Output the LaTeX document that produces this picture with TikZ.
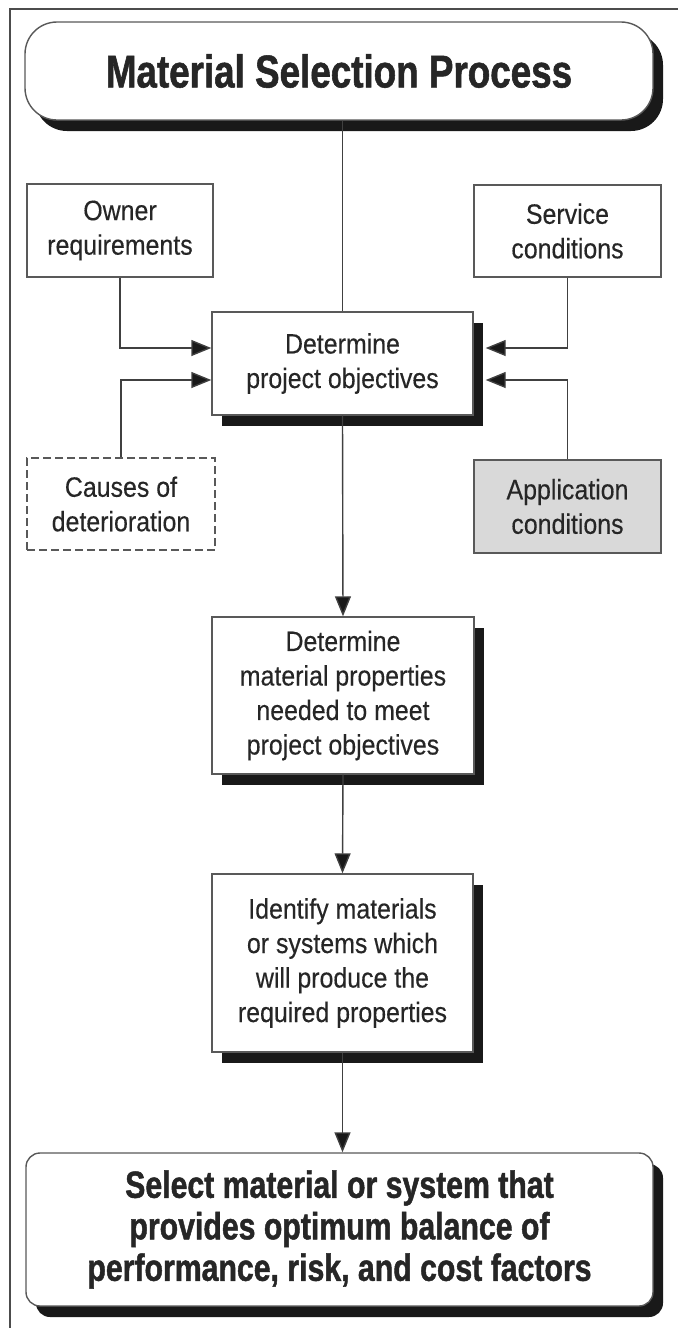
\documentclass[tikz,border=0pt]{standalone}
\usepackage{fontspec}
\setmainfont{Liberation Sans}[FakeStretch=0.89, FakeBold=0.3]
\newfontfamily\headfont{Liberation Sans}[FakeStretch=0.8, BoldFeatures={FakeBold=1.2}]
\usepackage{tikz}
\usetikzlibrary{arrows.meta,positioning,shadows}

\begin{document}
\begin{tikzpicture}[x=0.5pt,y=-0.5pt,
    box/.style={draw=black!65, line width=0.7pt, fill=white, text=black!85,
        align=center, inner sep=0pt, font=\fontsize{14}{17.25}\selectfont},
    shadowbox/.style={box, drop shadow={shadow xshift=5pt, shadow yshift=-5.5pt,
        fill=black!90, opacity=1}},
    headbox/.style={shadowbox, font=\headfont\bfseries\fontsize{18.9}{20.75}\selectfont},
    link/.style={draw=black!75, line width=0.7pt},
    arr/.style={link, -{Triangle[length=10pt,width=8pt,fill=black!90]}}]
    \useasboundingbox (0,0) rectangle (678,1328);

    % Frame
    \draw[black!70, line width=0.6pt] (10,1328) -- (10,9) -- (678,9);

    % Title and inputs
    \node[headbox, rounded corners=16pt, minimum width=314pt, minimum height=49pt,
        font=\headfont\bfseries\fontsize{23}{26}\selectfont] (title) at (339,71)
        {Material Selection Process};
    \node[box, minimum width=93pt, minimum height=46.5pt] (owner) at (120,230.5)
        {Owner\\requirements};
    \node[box, minimum width=93.5pt, minimum height=46pt] (service) at (567.5,231)
        {Service\\conditions};
    \node[box, dash pattern=on 4pt off 2pt, minimum width=94pt, minimum height=46pt]
        (causes) at (121,504) {Causes of\\deterioration};
    \node[box, fill=black!15, minimum width=93.5pt, minimum height=46.5pt]
        (appl) at (567.5,506.5) {Application\\conditions};

    % Main steps
    \node[shadowbox, minimum width=130.5pt, minimum height=51.5pt] (obj) at (342.5,363.5)
        {Determine\\project objectives};
    \node[shadowbox, minimum width=131pt, minimum height=78.5pt] (props) at (343,695.5)
        {Determine\\material properties\\needed to meet\\project objectives};
    \node[shadowbox, minimum width=130.5pt, minimum height=89pt] (ident) at (342.5,963)
        {Identify materials\\or systems which\\will produce the\\required properties};
    \node[headbox, rounded corners=7pt, minimum width=313.5pt, minimum height=76.5pt]
        (select) at (339.5,1229.5)
        {Select material or system that\\provides optimum balance of\\performance, risk, and cost factors};

    % Connectors
    \draw[link] (obj.north |- title.south) -- (obj.north);
    \draw[arr] (owner.south) |- ([yshift=7.75pt]obj.west);
    \draw[arr] (causes.north) |- ([yshift=-8.25pt]obj.west);
    \draw[arr] (service.south) |- ([xshift=6pt,yshift=7.75pt]obj.east);
    \draw[arr] (appl.north) |- ([xshift=6pt,yshift=-8.25pt]obj.east);
    \draw[arr] (obj.south) -- (props.north);
    \draw[arr] (props.south) -- (ident.north);
    \draw[arr] (ident.south) -- (ident.south |- select.north);
\end{tikzpicture}
\end{document}
